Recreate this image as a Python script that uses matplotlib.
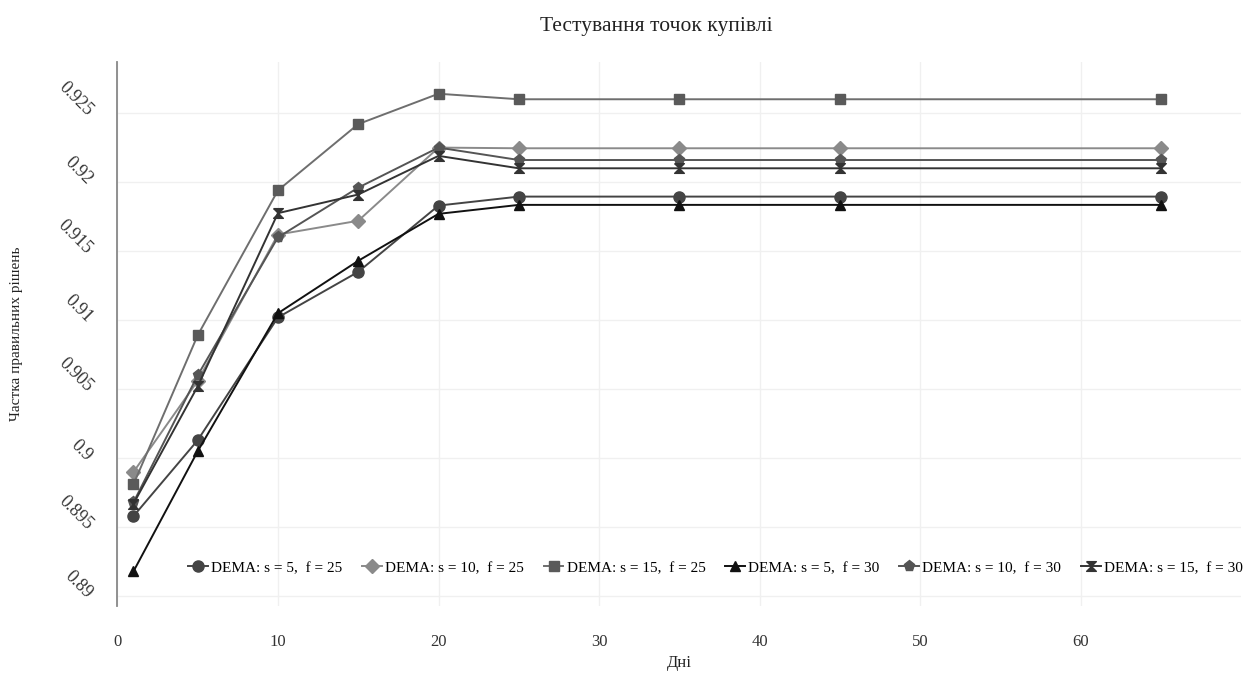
import matplotlib
matplotlib.use("Agg")
import matplotlib.pyplot as plt

plt.rcParams["font.family"] = ["Liberation Serif", "DejaVu Serif"]

# Data
days = [1, 5, 10, 15, 20, 25, 35, 45, 65]
s5_f25 = [0.8958, 0.9013, 0.9102, 0.9135, 0.9183, 0.91895, 0.91895, 0.91895, 0.91895]
s10_f25 = [0.8990, 0.9056, 0.9162, 0.9172, 0.9225, 0.92245, 0.92245, 0.92245, 0.92245]
s15_f25 = [0.8981, 0.9089, 0.9194, 0.9242, 0.9264, 0.9260, 0.9260, 0.9260, 0.9260]
s5_f30 = [0.8918, 0.9005, 0.9105, 0.9143, 0.9177, 0.91835, 0.91835, 0.91835, 0.91835]
s10_f30 = [0.8968, 0.9060, 0.9160, 0.9196, 0.9225, 0.9216, 0.9216, 0.9216, 0.9216]
s15_f30 = [0.8967, 0.9052, 0.91775, 0.9191, 0.9219, 0.9210, 0.9210, 0.9210, 0.9210]

labels = ["DEMA: s = 5,  f = 25", "DEMA: s = 10,  f = 25", "DEMA: s = 15,  f = 25",
          "DEMA: s = 5,  f = 30", "DEMA: s = 10,  f = 30", "DEMA: s = 15,  f = 30"]

hourglass = [(-1, 1), (1, 1), (-1, -1), (1, -1), (-1, 1)]

styles = [
    dict(color="#444444", marker="o", ms=8),
    dict(color="#8a8a8a", marker="D", ms=7),
    dict(color="#6e6e6e", marker="s", ms=7.5, mfc="#5a5a5a", mec="#5a5a5a"),
    dict(color="#111111", marker="^", ms=7),
    dict(color="#555555", marker="p", ms=8),
    dict(color="#333333", marker=hourglass, ms=7),
]

fig = plt.figure(figsize=(12.58, 6.73), dpi=100)
ax = fig.add_axes([0.0933, 0.0996, 0.8935, 0.8083])

series = [s5_f25, s10_f25, s15_f25, s5_f30, s10_f30, s15_f30]
for vals, lab, st in zip(series, labels, styles):
    ax.plot(days, vals, label=lab, lw=1.4, **st)

ax.set_xlim(0, 70)
ax.set_ylim(0.8893, 0.9287)
ax.set_xticks([0, 10, 20, 30, 40, 50, 60])
yt = [0.89, 0.895, 0.9, 0.905, 0.91, 0.915, 0.92, 0.925]
ax.set_yticks(yt)
ax.set_yticklabels(["0.89", "0.895", "0.9", "0.905", "0.91", "0.915", "0.92", "0.925"],
                   fontsize=13, color="#333333")
for t in ax.get_yticklabels():
    t.set_rotation(-45)
    t.set_rotation_mode("anchor")
    t.set_ha("right")
    t.set_va("center")
ax.tick_params(axis="y", length=0, pad=20)
ax.tick_params(axis="x", length=0, pad=20, labelsize=12, labelcolor="#333333")

ax.grid(True, color="#f0f0f0", lw=1)
ax.set_axisbelow(True)
for side in ["top", "right", "bottom"]:
    ax.spines[side].set_visible(False)
ax.spines["left"].set_color("#888888")
ax.spines["left"].set_linewidth(1.3)

ax.set_xlabel("Дні", fontsize=12, color="#222222", va="center")
ax.xaxis.set_label_coords(0.5, -0.105)
ax.set_ylabel("Частка правильних рішень", fontsize=11, color="#222222", va="center")
ax.yaxis.set_label_coords(-0.09, 0.5)
fig.suptitle("Тестування точок купівлі", x=0.522, y=0.975, fontsize=15.5, color="#222222")

ax.legend(loc="center", bbox_to_anchor=(0.532, 0.07), ncol=6, frameon=False,
          fontsize=11, handlelength=1.3, handletextpad=0.2, columnspacing=1.3,
          borderaxespad=0)

fig.savefig("out.png", dpi=100)
